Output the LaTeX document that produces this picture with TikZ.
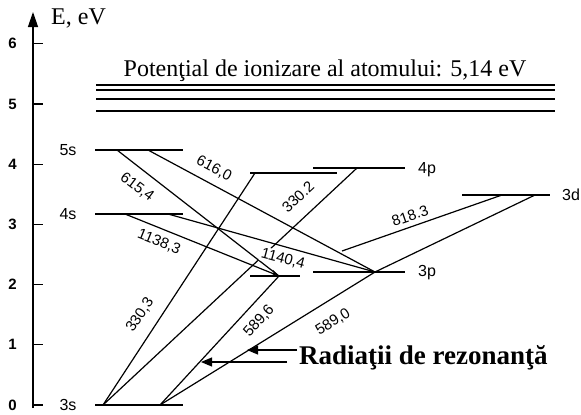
\documentclass[tikz,border=0pt]{standalone}
\usepackage{fontspec}
\setmainfont{Liberation Serif}
\setsansfont{Liberation Sans}
\usetikzlibrary{arrows.meta}

\begin{document}
\begin{tikzpicture}[x=1pt, y=-1pt,
  every node/.style={inner sep=1pt},
  levelline/.style={line width=1.2pt},
  trans/.style={line width=1.2pt},
  wlen/.style={font=\sffamily\fontsize{15}{15}\selectfont},
  lvlname/.style={font=\sffamily\fontsize{16}{16}\selectfont},
  ticklab/.style={font=\sffamily\bfseries\fontsize{15}{15}\selectfont},
  bigtext/.style={font=\fontsize{24}{24}\selectfont},
]
\useasboundingbox (0,0) rectangle (581,415);

% energy axis
\coordinate (axbot) at (33,408);
\coordinate (axtop) at (33,12);
\draw[line width=1.3pt, -{Triangle[length=15pt,width=10pt]}] (axbot) -- (axtop);
\node[bigtext, anchor=west] (eaxis) at (50,18) {E, eV};
\foreach \e in {0,...,6} {
  \pgfmathsetmacro{\ey}{405-60.2*\e}
  \draw[line width=1.2pt] (33,\ey) -- (43,\ey);
  \node[ticklab] (t\e) at (12.5,\ey) {\e};
}

% ionization limit
\foreach \yy in {85,90,99,111}
  \draw[line width=1.1pt] (96,\yy) -- (555,\yy);
\node[bigtext] (ionlim) at (325,71) {Potenţial de ionizare al atomului: 5,14 eV};

% levels
\draw[levelline] (95,150) -- (183,150);
\draw[levelline] (95,214) -- (183,214);
\draw[levelline] (95,405) -- (183,405);
\draw[levelline] (250,173) -- (337,173);
\draw[levelline] (313,168) -- (405,168);
\draw[levelline] (250,276) -- (300,276);
\draw[levelline] (313,272) -- (405,272);
\draw[levelline] (462,195) -- (550,195);
\node[lvlname] (n5s) at (68,150) {5s};
\node[lvlname] (n4s) at (68,214) {4s};
\node[lvlname] (n3s) at (68,405) {3s};
\node[lvlname, anchor=west] (n4p) at (417,170) {4p};
\node[lvlname, anchor=west] (n3p) at (417,273) {3p};
\node[lvlname, anchor=west] (n3d) at (561,195) {3d};

% end points on the levels
\coordinate (s5a) at (117,150);
\coordinate (s5b) at (148,150);
\coordinate (s4a) at (125,214);
\coordinate (s4b) at (168,214);
\coordinate (s3a) at (103,405);
\coordinate (s3b) at (160,405);
\coordinate (p4a) at (255,173);
\coordinate (p4b) at (357,168);
\coordinate (p3a) at (279,276);
\coordinate (p3b) at (375,272);
\coordinate (d3a) at (502,195);
\coordinate (d3b) at (535,195);
\coordinate (m818) at (342,251);

% transitions
\draw[trans] (s5a) -- (p3a);
\draw[trans] (s5b) -- (p3b);
\draw[trans] (s4b) -- (p3b);
\draw[trans] (s3a) -- (p4a);
\draw[trans] (s3a) -- (p4b);
\draw[trans] (s3b) -- (p3a);
\draw[trans] (s3b) -- (p3b);
\draw[trans] (d3a) -- (m818);
\draw[trans] (d3b) -- (p3b);

% wavelengths (nm)
\node[wlen, rotate=-37] (w6154) at (137,187) {615,4};
\node[wlen, rotate=-28] (w6160) at (214,169) {616,0};
\node[wlen, rotate=-22] (w11383) at (159,242) {1138,3};
\node[wlen, rotate=-15, fill=white] (w11404) at (283,259) {1140,4};
\node[wlen, rotate=56] (w3303) at (140,315) {330,3};
\node[wlen, rotate=43] (w3302) at (298,197) {330.2};
\node[wlen, rotate=48] (w5896) at (259,321) {589,6};
\node[wlen, rotate=32] (w5890) at (333,322) {589,0};
\node[wlen, rotate=19] (w8183) at (410,216) {818.3};

\draw[trans, -{Stealth[length=8pt,width=7pt,open]}] (s4a) -- (p3a);

% resonance lines
\node[font=\bfseries\fontsize{27}{27}\selectfont, anchor=west] (rez) at (298,358) {Radiaţii de rezonanţă};
\coordinate (r1) at (297,350);
\coordinate (r2) at (287,362);
\draw[line width=1.2pt, -{Triangle[length=11pt,width=9pt]}] (r1) -- (247,350);
\draw[line width=1.2pt, -{Triangle[length=11pt,width=9pt]}] (r2) -- (201,362);
\end{tikzpicture}
\end{document}
